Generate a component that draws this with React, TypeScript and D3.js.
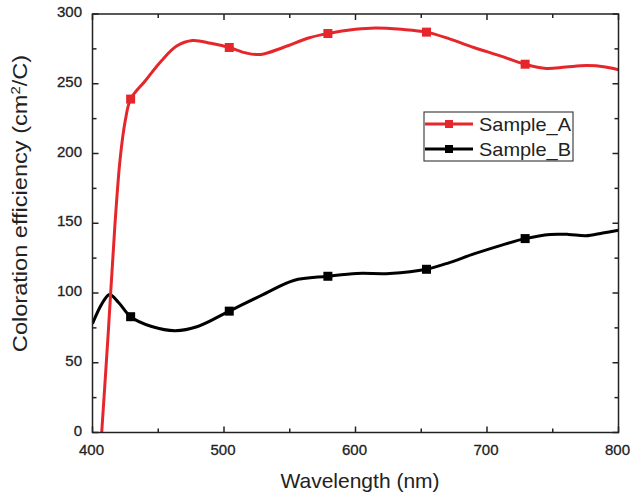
import React, { useEffect, useRef } from 'react';
import * as d3 from 'd3';

// wavelength (nm) -> coloration efficiency (cm2/C)
const sampleAx = [407, 412, 417, 421, 425, 429, 440, 452, 464, 476, 490, 504, 517, 528, 545, 565, 579, 600, 615, 635, 654, 672, 690, 710, 729, 745, 760, 776, 790, 800];
const sampleAy = [0, 72, 148, 196, 224, 239, 252, 266, 277, 281, 279, 276, 272, 271, 276, 283, 286, 289, 290, 289, 287, 282, 276, 270, 264, 261, 262, 263, 262, 260];
const sampleBx = [400, 407, 413, 420, 429, 445, 463, 480, 504, 530, 553, 579, 601, 626, 654, 672, 690, 710, 729, 748, 762, 775, 788, 800];
const sampleBy = [78, 92, 99, 93, 83, 76, 73, 76, 87, 99, 109, 112, 114, 114, 117, 122, 128, 134, 139, 142, 142, 141, 143, 145];
const markerX = [429, 504, 579, 654, 729];
const xTicks = [400, 500, 600, 700, 800];
const yTicks = [0, 50, 100, 150, 200, 250, 300];

const RED = '#e5262b';
const FONT = 'Liberation Sans, Arial, sans-serif';

const App = () => {
  const svgRef = useRef<SVGSVGElement>(null);

  useEffect(() => {
    const svg = d3.select(svgRef.current);
    svg.selectAll('*').remove();

    const left = 92.5, right = 618.5, top = 14, bottom = 432.5;
    const x = d3.scaleLinear().domain([400, 800]).range([left, right]);
    const y = d3.scaleLinear().domain([0, 300]).range([bottom, top]);

    const clip = svg.append('defs').append('clipPath').attr('id', 'plotclip');
    clip.append('rect').attr('x', left).attr('y', top).attr('width', right - left).attr('height', bottom - top);

    const line = d3.line<[number, number]>()
      .x((d) => x(d[0]))
      .y((d) => y(d[1]))
      .curve(d3.curveCatmullRom.alpha(0.5));

    const series = [
      { name: 'Sample_A', xs: sampleAx, ys: sampleAy, color: RED },
      { name: 'Sample_B', xs: sampleBx, ys: sampleBy, color: '#000' },
    ];

    const plot = svg.append('g').attr('clip-path', 'url(#plotclip)');
    // draw B first so A sits on top where they cross
    [series[1], series[0]].forEach((s) => {
      const pts: [number, number][] = s.xs.map((v, i) => [v, s.ys[i]]);
      plot.append('path')
        .datum(pts)
        .attr('fill', 'none')
        .attr('stroke', s.color)
        .attr('stroke-width', 3)
        .attr('d', line);

      markerX.forEach((mx) => {
        const my = d3.scaleLinear().domain(s.xs).range(s.ys)(mx);
        plot.append('rect')
          .attr('x', x(mx) - 4.5)
          .attr('y', y(my) - 4.5)
          .attr('width', 9)
          .attr('height', 9)
          .attr('fill', s.color);
      });
    });

    // frame
    svg.append('rect')
      .attr('x', left).attr('y', top)
      .attr('width', right - left).attr('height', bottom - top)
      .attr('fill', 'none').attr('stroke', '#222').attr('stroke-width', 1.5);

    const tk = svg.append('g').attr('stroke', '#222').attr('stroke-width', 1.5);
    d3.range(400, 801, 50).forEach((v) => {
      const len = v % 100 === 0 ? 6 : 4;
      tk.append('line').attr('x1', x(v)).attr('x2', x(v)).attr('y1', bottom).attr('y2', bottom - len);
      tk.append('line').attr('x1', x(v)).attr('x2', x(v)).attr('y1', top).attr('y2', top + len);
    });
    d3.range(0, 301, 25).forEach((v) => {
      const len = v % 50 === 0 ? 6 : 4;
      tk.append('line').attr('y1', y(v)).attr('y2', y(v)).attr('x1', left).attr('x2', left + len);
      tk.append('line').attr('y1', y(v)).attr('y2', y(v)).attr('x1', right).attr('x2', right - len);
    });

    const lbl = svg.append('g').attr('font-family', FONT).attr('font-size', 15).attr('fill', '#222')
      .attr('stroke', '#222').attr('stroke-width', 0.3);
    xTicks.forEach((v) => {
      lbl.append('text').attr('x', x(v) - 1).attr('y', 455).attr('text-anchor', 'middle').text(v);
    });
    yTicks.forEach((v) => {
      lbl.append('text').attr('x', 82).attr('y', y(v) + 3).attr('text-anchor', 'end').text(v);
    });

    svg.append('text')
      .attr('x', 360).attr('y', 488)
      .attr('text-anchor', 'middle')
      .attr('font-family', FONT).attr('font-size', 21).attr('fill', '#222')
      .text('Wavelength (nm)');

    const yt = svg.append('text')
      .attr('transform', `translate(27,203.5) rotate(-90) scale(1.15,1)`)
      .attr('text-anchor', 'middle')
      .attr('font-family', FONT).attr('font-size', 20.5).attr('fill', '#222');
    yt.append('tspan').text('Coloration efficiency (cm');
    yt.append('tspan').attr('baseline-shift', 'super').attr('font-size', 13).text('2');
    yt.append('tspan').text('/C)');

    // legend
    const lg = svg.append('g');
    lg.append('rect')
      .attr('x', 424).attr('y', 112).attr('width', 149).attr('height', 49)
      .attr('fill', '#fff').attr('stroke', '#444').attr('stroke-width', 1.2);
    series.forEach((s, i) => {
      const cy = 124 + i * 25;
      lg.append('line').attr('x1', 425).attr('x2', 473).attr('y1', cy).attr('y2', cy)
        .attr('stroke', s.color).attr('stroke-width', 3);
      lg.append('rect').attr('x', 445).attr('y', cy - 4).attr('width', 8).attr('height', 8).attr('fill', s.color);
      lg.append('text').attr('x', 479).attr('y', cy + 7)
        .attr('font-family', FONT).attr('font-size', 19).attr('fill', '#222')
        .attr('textLength', 92).attr('lengthAdjust', 'spacingAndGlyphs')
        .text(s.name);
    });
  }, []);

  return (
    <svg ref={svgRef} width={631} height={496}
      style={{ position: 'absolute', left: 0, top: 0, background: '#fff' }} />
  );
};

export default App;
